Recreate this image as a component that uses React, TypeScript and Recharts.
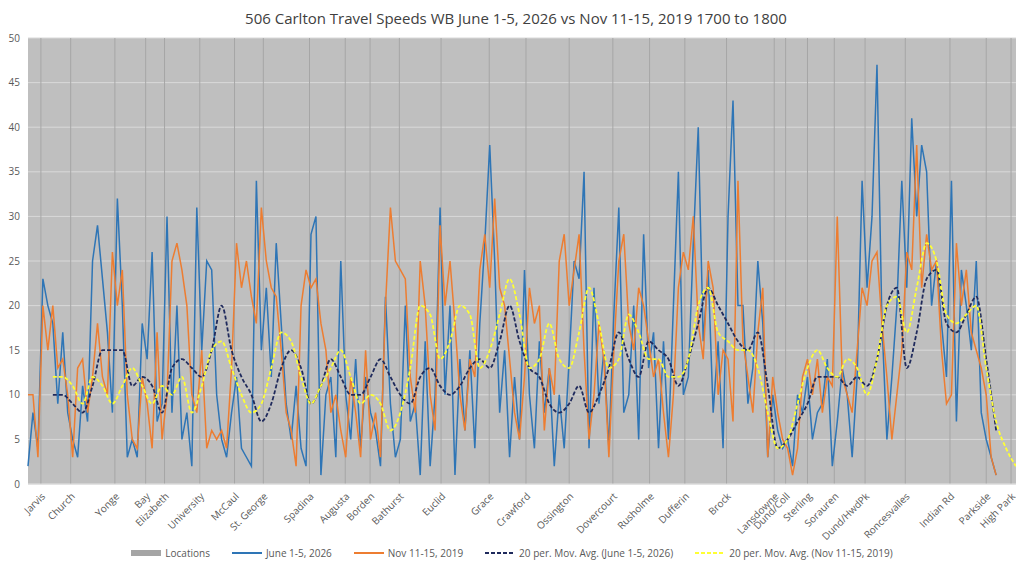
import React from 'react';
import { ComposedChart, Line, XAxis, YAxis, CartesianGrid, ReferenceLine, Legend } from 'recharts';

// stop names and their position along the route (sample index)
const locations = ['Jarvis', 'Church', 'Yonge', 'Bay', 'Elizabeth', 'University', 'McCaul', 'St. George', 'Spadina', 'Augusta', 'Borden', 'Bathurst', 'Euclid', 'Grace', 'Crawford', 'Ossington', 'Dovercourt', 'Rusholme', 'Dufferin', 'Brock', 'Lansdowne', 'Dund/Coll', 'Sterling', 'Sorauren', 'Dund/HwdPk', 'Roncesvalles', 'Indian Rd', 'Parkside', 'High Park'];
const locationPos = [2.6, 8.6, 17.5, 23.7, 27.5, 34.6, 41.6, 47.4, 56.7, 63.9, 68.9, 74.8, 83.2, 92.9, 100.3, 109, 117.8, 125.2, 132.3, 140.7, 150.3, 152.6, 157, 162.4, 168.6, 176.7, 185.7, 193, 198];

// speeds (km/h), one per sample
const june2026 = [2, 8, 4, 23, 20, 18, 9, 17, 8, 5, 3, 11, 7, 25, 29, 23, 17, 8, 32, 20, 3, 5, 3, 18, 14, 26, 7, 9, 30, 8, 20, 5, 8, 2, 31, 15, 25, 24, 10, 5, 3, 8, 12, 4, 3, 2, 34, 15, 22, 12, 27, 18, 9, 5, 11, 4, 2, 28, 30, 1, 10, 12, 3, 25, 10, 5, 14, 4, 12, 8, 6, 2, 21, 9, 3, 5, 20, 7, 9, 1, 16, 2, 10, 31, 10, 20, 1, 14, 6, 15, 4, 18, 27, 38, 25, 8, 15, 3, 12, 5, 24, 10, 4, 16, 8, 13, 2, 10, 4, 14, 25, 23, 35, 4, 22, 9, 15, 4, 19, 31, 8, 10, 20, 5, 28, 13, 17, 4, 16, 5, 20, 35, 10, 12, 27, 40, 16, 24, 8, 16, 4, 30, 43, 20, 20, 9, 13, 25, 18, 3, 10, 6, 4, 5, 2, 10, 8, 12, 5, 8, 9, 14, 2, 7, 13, 10, 3, 12, 34, 22, 30, 47, 18, 5, 12, 20, 34, 22, 41, 30, 38, 35, 20, 25, 18, 12, 34, 7, 24, 20, 15, 25, 8, 5, 3, 1];
const nov2019 = [10, 10, 3, 20, 15, 20, 13, 14, 10, 3, 13, 14, 8, 12, 18, 12, 10, 26, 20, 24, 10, 5, 4, 12, 9, 4, 17, 5, 10, 25, 27, 24, 20, 10, 8, 15, 4, 6, 5, 6, 4, 13, 27, 22, 25, 21, 18, 31, 25, 22, 21, 15, 8, 6, 2, 20, 24, 22, 23, 18, 15, 8, 10, 6, 3, 12, 8, 3, 15, 5, 8, 3, 20, 31, 25, 24, 23, 12, 8, 25, 20, 10, 6, 29, 20, 25, 18, 10, 6, 14, 12, 24, 28, 22, 32, 22, 20, 14, 8, 5, 12, 22, 18, 20, 6, 13, 10, 25, 28, 20, 24, 28, 15, 5, 10, 18, 14, 3, 15, 25, 28, 18, 15, 22, 20, 16, 12, 14, 8, 3, 10, 22, 26, 24, 30, 18, 14, 25, 22, 10, 15, 14, 7, 34, 16, 12, 8, 17, 22, 3, 12, 8, 5, 4, 1, 4, 12, 14, 10, 14, 8, 12, 11, 30, 12, 10, 8, 15, 22, 20, 25, 26, 18, 12, 5, 10, 15, 26, 24, 38, 22, 28, 24, 25, 15, 9, 10, 27, 20, 24, 17, 15, 13, 10, 3, 1];

// 20 period moving averages, read every second sample starting at sample 5
const juneAvg = [10, 10, 9, 8, 11, 15, 15, 15, 11, 12, 11, 8, 13, 14, 13, 12, 15, 20, 15, 12, 10, 7, 9, 13, 15, 13, 9, 11, 14, 12, 10, 10, 12, 14, 12, 10, 9, 12, 13, 11, 10, 11, 13, 14, 13, 16, 20, 16, 13, 12, 9, 8, 9, 11, 8, 10, 13, 17, 14, 12, 16, 15, 14, 11, 14, 18, 22, 20, 18, 16, 15, 17, 11, 4, 5, 7, 9, 12, 12, 12, 11, 12, 11, 14, 20, 22, 13, 17, 23, 24, 18, 17, 19, 21, 14, 6];
const novAvg = [12, 12, 11, 9, 12, 11, 9, 11, 13, 11, 9, 11, 10, 12, 8, 11, 15, 16, 13, 10, 8, 9, 13, 17, 16, 12, 9, 11, 13, 15, 12, 9, 10, 9, 6, 8, 13, 20, 19, 14, 16, 20, 19, 13, 15, 19, 23, 19, 13, 14, 18, 14, 13, 17, 22, 18, 13, 14, 19, 17, 14, 14, 12, 12, 14, 20, 22, 17, 16, 15, 15, 13, 8, 4, 5, 9, 13, 15, 13, 12, 14, 13, 10, 14, 20, 21, 17, 22, 27, 25, 19, 18, 19, 20, 13, 7, 4, 2];

const yTicks = [0, 5, 10, 15, 20, 25, 30, 35, 40, 45, 50];

const juneData = june2026.map((v, i) => ({ x: i, v }));
const novData = nov2019.map((v, i) => ({ x: i, v }));
const juneAvgData = juneAvg.map((v, i) => ({ x: 5 + i * 2, v }));
const novAvgData = novAvg.map((v, i) => ({ x: 5 + i * 2, v }));

const legendItems = [
  { label: 'Locations', kind: 'bar', color: '#a5a5a5' },
  { label: 'June 1-5, 2026', kind: 'line', color: '#2e75b6' },
  { label: 'Nov 11-15, 2019', kind: 'line', color: '#ed7d31' },
  { label: '20 per. Mov. Avg. (June 1-5, 2026)', kind: 'dash', color: '#1f2a5c' },
  { label: '20 per. Mov. Avg. (Nov 11-15, 2019)', kind: 'dash', color: '#ffff33' },
];

const renderLegend = () => (
  <div style={{ display: 'flex', justifyContent: 'center', gap: 22, fontSize: 10, color: '#595959' }}>
    {legendItems.map((it) => (
      <span key={it.label} style={{ display: 'flex', alignItems: 'center', gap: 4 }}>
        <svg width={30} height={8}>
          {it.kind === 'bar' ? (
            <rect x={0} y={1} width={30} height={6} fill={it.color} />
          ) : (
            <line x1={0} y1={4} x2={30} y2={4} stroke={it.color} strokeWidth={2} strokeDasharray={it.kind === 'dash' ? '4 2' : undefined} />
          )}
        </svg>
        {it.label}
      </span>
    ))}
  </div>
);

const App: React.FC = () => {
  return (
    <div style={{ fontFamily: '"Open Sans", sans-serif', width: 1016, position: 'relative' }}>
      <div style={{ position: 'absolute', top: 0, width: '100%', textAlign: 'center', fontSize: 15, color: '#404040' }}>
        506 Carlton Travel Speeds WB June 1-5, 2026 vs Nov 11-15, 2019 1700 to 1800
      </div>
      <ComposedChart width={1016} height={556} margin={{ top: 30, right: 8, bottom: 0, left: 0 }}>
        <CartesianGrid vertical={false} stroke="#d9d9d9" fill="#bfbfbf" />
        <XAxis
          type="number"
          dataKey="x"
          domain={[0, 199]}
          ticks={locationPos}
          tickFormatter={(v: number) => locations[locationPos.indexOf(v)] ?? ''}
          interval={0}
          angle={-45}
          textAnchor="end"
          height={62}
          tick={{ fontSize: 10, fill: '#595959' }}
          tickLine={false}
          axisLine={{ stroke: '#d9d9d9' }}
          allowDuplicatedCategory={false}
        />
        <YAxis
          type="number"
          domain={[0, 50]}
          ticks={yTicks}
          width={20}
          tick={{ fontSize: 10, fill: '#595959' }}
          tickLine={false}
          axisLine={false}
        />
        {locationPos.map((p) => (
          <ReferenceLine key={p} x={p} stroke="#a6a6a6" strokeWidth={1} />
        ))}
        <Line data={juneData} dataKey="v" stroke="#2e75b6" strokeWidth={1.5} dot={false} isAnimationActive={false} />
        <Line data={novData} dataKey="v" stroke="#ed7d31" strokeWidth={1.5} dot={false} isAnimationActive={false} />
        <Line data={juneAvgData} dataKey="v" stroke="#1f2a5c" strokeWidth={1.8} strokeDasharray="4 2" dot={false} type="monotone" isAnimationActive={false} />
        <Line data={novAvgData} dataKey="v" stroke="#ffff33" strokeWidth={1.8} strokeDasharray="4 2" dot={false} type="monotone" isAnimationActive={false} />
        <Legend verticalAlign="bottom" height={18} content={renderLegend} />
      </ComposedChart>
    </div>
  );
};

export default App;
